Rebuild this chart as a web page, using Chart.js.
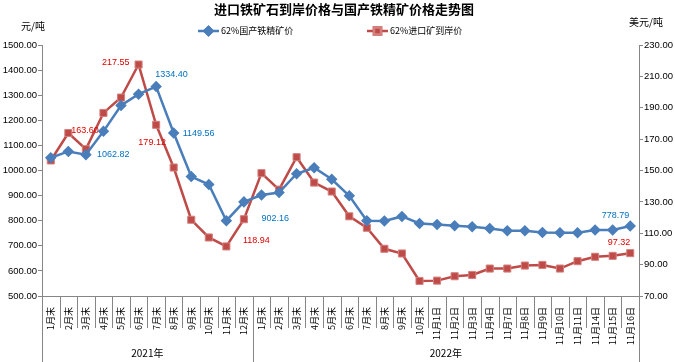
<!DOCTYPE html>
<html>
<head>
<meta charset="utf-8">
<script src="https://cdn.jsdelivr.net/npm/chart.js@4.4.1/dist/chart.umd.min.js"></script>
<style>
  html, body { margin: 0; padding: 0; background: #fff; }
</style>
</head>
<body>
<canvas id="chart" width="675" height="362"></canvas>
<script>
// chart data
const title = '进口铁矿石到岸价格与国产铁精矿价格走势图';
const leftUnit = '元/吨';
const rightUnit = '美元/吨';
const seriesNames = ['62%国产铁精矿价', '62%进口矿到岸价'];
const categories = [
  '1月末', '2月末', '3月末', '4月末', '5月末', '6月末', '7月末', '8月末', '9月末', '10月末', '11月末', '12月末',
  '1月末', '2月末', '3月末', '4月末', '5月末', '6月末', '7月末', '8月末', '9月末', '10月末',
  '11月1日', '11月2日', '11月3日', '11月4日', '11月7日', '11月8日', '11月9日', '11月10日', '11月11日',
  '11月14日', '11月15日', '11月16日'
];
const years = ['2021年', '2022年'];
const yearCounts = [12, 22];
const domesticPrice = [
  1051, 1076, 1062.82, 1156, 1259, 1304, 1334.40, 1149.56, 976, 944, 800, 875,
  902.16, 912, 987, 1011, 965, 899, 800, 799, 817, 789,
  785, 780, 776, 769, 760, 760, 753, 752, 752, 763, 763, 778.79
];
const importPrice = [
  156.4, 173.9, 163.60, 186.7, 196.5, 217.55, 179.12, 151.9, 118.6, 107.3, 101.6, 118.94,
  148.3, 137.8, 158.5, 142.3, 136.6, 120.8, 113.5, 100.1, 97.1, 79.6,
  79.8, 82.6, 83.4, 87.5, 87.5, 89.4, 89.8, 87.5, 92.2, 95.0, 95.6, 97.32
];
const domesticLabelled = [2, 6, 7, 12, 33];
const importLabelled = [2, 5, 6, 11, 33];
const leftTicks = [500, 600, 700, 800, 900, 1000, 1100, 1200, 1300, 1400, 1500];
const rightTicks = [70, 90, 110, 130, 150, 170, 190, 210, 230];

const BLUE = '#4A7EBB';
const RED = '#BE4B48';
const AXIS = '#868686';
const numFont = 'Liberation Sans, Arial, sans-serif';
const cjkFont = '"Noto Sans CJK SC", sans-serif';

// where each value label sits, relative to its point: [dx, dy, align]
const labelPlacement = [
  { 2: [11, 0, 'left'], 6: [-1, -12, 'left'], 7: [9, 1, 'left'], 12: [0, 23, 'left'], 33: [-1, -11, 'right'] },
  { 2: [-1, -19, 'center'], 5: [-9, -2, 'right'], 6: [-4, 18, 'center'], 11: [-1, 21, 'left'], 33: [0, -11, 'right'] }
];
const labelColors = ['#0070C0', '#E00000'];

const decorPlugin = {
  id: 'decor',
  afterDraw(chart) {
    const ctx = chart.ctx;
    const x = chart.scales.x;
    const area = chart.chartArea;
    ctx.save();

    // title, units
    ctx.fillStyle = '#000';
    ctx.textBaseline = 'middle';
    ctx.textAlign = 'center';
    ctx.font = 'bold 13px ' + cjkFont;
    ctx.fillText(title, 344, 9);
    ctx.font = '10px ' + cjkFont;
    ctx.textAlign = 'left';
    ctx.fillText(leftUnit, 21, 26);
    ctx.fillText(rightUnit, 629, 22);

    // legend
    const legendX = [198, 367];
    const legendY = 31;
    chart.data.datasets.forEach((ds, i) => {
      const lx = legendX[i];
      ctx.strokeStyle = ds.borderColor;
      ctx.lineWidth = 2.5;
      ctx.beginPath();
      ctx.moveTo(lx, legendY);
      ctx.lineTo(lx + 21, legendY);
      ctx.stroke();
      Chart.helpers.drawPoint(ctx, {
        pointStyle: ds.pointStyle, radius: ds.pointRadius, borderWidth: 1
      }, lx + 10.5, legendY);
      ctx.fillStyle = ds.pointBackgroundColor;
      ctx.strokeStyle = ds.pointBorderColor;
      Chart.helpers.drawPoint(ctx, {
        pointStyle: ds.pointStyle, radius: ds.pointRadius, borderWidth: 1
      }, lx + 10.5, legendY);
      ctx.fillStyle = '#000';
      ctx.font = '9px ' + cjkFont;
      ctx.textAlign = 'left';
      ctx.fillText(ds.label, lx + 23, legendY);
    });

    // category separators and year groups
    const half = (x.getPixelForValue(1) - x.getPixelForValue(0)) / 2;
    ctx.strokeStyle = AXIS;
    ctx.lineWidth = 1;
    let start = 0;
    const yearEdges = [0];
    yearCounts.forEach(n => { start += n; yearEdges.push(start); });
    for (let i = 0; i <= categories.length; i++) {
      const px = Math.round(x.getPixelForValue(i) - half) + 0.5;
      const full = yearEdges.includes(i);
      ctx.beginPath();
      ctx.moveTo(px, area.bottom);
      ctx.lineTo(px, full ? chart.height : area.bottom + 32);
      ctx.stroke();
    }
    ctx.fillStyle = '#000';
    ctx.font = '10px ' + cjkFont;
    ctx.textAlign = 'center';
    years.forEach((yr, i) => {
      const a = x.getPixelForValue(yearEdges[i]) - half;
      const b = x.getPixelForValue(yearEdges[i + 1]) - half;
      ctx.fillText(yr, (a + b) / 2, 353);
    });

    // value labels
    ctx.font = '9px ' + numFont;
    [domesticLabelled, importLabelled].forEach((idxs, d) => {
      const meta = chart.getDatasetMeta(d);
      ctx.fillStyle = labelColors[d];
      idxs.forEach(i => {
        const pt = meta.data[i];
        const [dx, dy, align] = labelPlacement[d][i];
        ctx.textAlign = align;
        ctx.fillText(chart.data.datasets[d].data[i].toFixed(2), pt.x + dx, pt.y + dy);
      });
    });
    ctx.restore();
  }
};

new Chart(document.getElementById('chart'), {
  type: 'line',
  data: {
    labels: categories,
    datasets: [
      {
        label: seriesNames[0],
        data: domesticPrice,
        yAxisID: 'y',
        borderColor: BLUE,
        backgroundColor: BLUE,
        borderWidth: 2.5,
        pointStyle: 'rectRot',
        pointRadius: 4,
        pointBackgroundColor: BLUE,
        pointBorderColor: BLUE,
        tension: 0
      },
      {
        label: seriesNames[1],
        data: importPrice,
        yAxisID: 'y1',
        borderColor: RED,
        backgroundColor: RED,
        borderWidth: 2.5,
        pointStyle: 'rect',
        pointRadius: 5,
        pointBackgroundColor: RED,
        pointBorderColor: '#D4807E',
        pointBorderWidth: 1,
        tension: 0
      }
    ]
  },
  options: {
    responsive: false,
    animation: false,
    events: [],
    layout: { padding: { top: 45, left: 0, right: 0, bottom: 0 } },
    plugins: {
      legend: { display: false },
      title: { display: false },
      tooltip: { enabled: false }
    },
    scales: {
      x: {
        offset: true,
        grid: { display: false },
        border: { display: true, color: AXIS },
        ticks: {
          autoSkip: false,
          minRotation: 90,
          maxRotation: 90,
          padding: 3,
          color: '#000',
          font: { family: cjkFont, size: 9 }
        },
        afterFit: s => { s.height = 66; }
      },
      y: {
        position: 'left',
        min: leftTicks[0],
        max: leftTicks[leftTicks.length - 1],
        afterBuildTicks: s => { s.ticks = leftTicks.map(v => ({ value: v })); },
        grid: { drawOnChartArea: false, tickLength: 4, color: AXIS },
        border: { display: true, color: AXIS },
        ticks: {
          padding: 1,
          color: '#000',
          font: { family: numFont, size: 9.5 },
          callback: v => v.toFixed(2)
        },
        afterFit: s => { s.width = 42; }
      },
      y1: {
        position: 'right',
        min: rightTicks[0],
        max: rightTicks[rightTicks.length - 1],
        afterBuildTicks: s => { s.ticks = rightTicks.map(v => ({ value: v })); },
        grid: { drawOnChartArea: false, tickLength: 4, color: AXIS },
        border: { display: true, color: AXIS },
        ticks: {
          padding: 1,
          color: '#000',
          font: { family: numFont, size: 9.5 },
          callback: v => v.toFixed(2)
        },
        afterFit: s => { s.width = 36; }
      }
    }
  },
  plugins: [decorPlugin]
});
</script>
</body>
</html>
